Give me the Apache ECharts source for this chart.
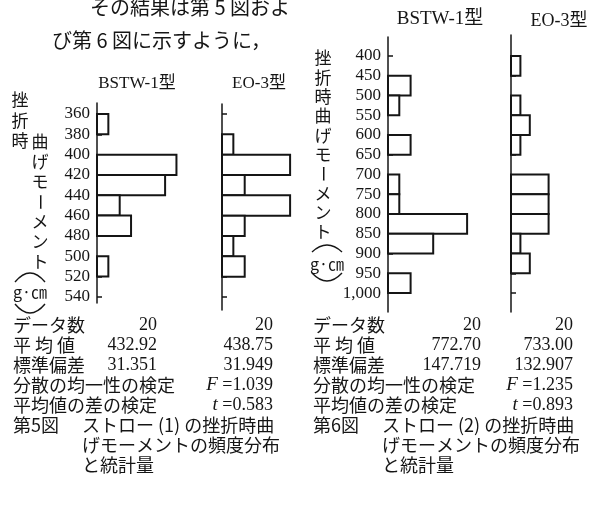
<!DOCTYPE html>
<html lang="ja">
<head>
<meta charset="UTF-8">
<title>第5図・第6図</title>
<style>
html, body { margin: 0; padding: 0; background: #fff; }
#main { width: 605px; height: 522px; }
</style>
</head>
<body>
<div id="main"></div>
<script src="https://cdn.jsdelivr.net/npm/echarts@6/dist/echarts.min.js"></script>
<script>
// 第5図: bin edges and counts
var fig5Edges = [360, 380, 400, 420, 440, 460, 480, 500, 520, 540];
var fig5Bstw = [1, 0, 7, 6, 2, 3, 0, 1, 0];
var fig5Eo = [0, 1, 6, 2, 6, 2, 1, 2, 0];
var fig5Ticks = [360, 380, 400, 420, 440, 460, 480, 500, 520, 540];

// 第6図
var fig6Edges = [400, 450, 500, 550, 600, 650, 700, 750, 800, 850, 900, 950, 1000];
var fig6Bstw = [0, 2, 1, 0, 2, 0, 1, 1, 7, 4, 0, 2];
var fig6Eo = [1, 0, 1, 2, 1, 0, 4, 4, 4, 1, 2, 0];
var fig6Ticks = [400, 450, 500, 550, 600, 650, 700, 750, 800, 850, 900, 950, 1000];

// statistics tables
var statLabels = ['データ数', '平 均 値', '標準偏差'];
var fig5Stats = [['20', '20'], ['432.92', '438.75'], ['31.351', '31.949']];
var fig6Stats = [['20', '20'], ['772.70', '733.00'], ['147.719', '132.907']];
var fig5Tests = ['1.039', '0.583'];
var fig6Tests = ['1.235', '0.893'];

var JP = '"Noto Sans CJK JP", sans-serif';
var SERIF = '"Liberation Serif", "DejaVu Serif", "Noto Sans CJK JP", serif';
var INK = '#151515';

var toBins = function (edges, counts) {
    var out = [];
    counts.forEach(function (c, i) {
        if (c > 0) out.push([edges[i], edges[i + 1], c]);
    });
    return out;
};

var renderBin = function (params, api) {
    var p0 = api.coord([0, api.value(0)]);
    var p1 = api.coord([api.value(2), api.value(1)]);
    return {
        type: 'rect',
        shape: { x: p0[0], y: p0[1], width: p1[0] - p0[0], height: p1[1] - p0[1] },
        style: { fill: '#fff', stroke: INK, lineWidth: 2 }
    };
};

var makeY = function (grid, min, max, ticks, showLabels) {
    return {
        type: 'value', gridIndex: grid, inverse: true, min: min, max: max,
        axisLine: { show: true, lineStyle: { color: INK, width: 1.5 } },
        axisTick: { show: true, inside: true, length: 5, customValues: ticks, lineStyle: { color: INK, width: 1.5 } },
        axisLabel: {
            show: showLabels, customValues: ticks, margin: 7,
            color: INK, fontFamily: SERIF, fontSize: 17,
            formatter: function (v) { return v >= 1000 ? '1,000' : String(v); }
        },
        splitLine: { show: false }
    };
};

var makeX = function (grid) {
    return { type: 'value', gridIndex: grid, min: 0, max: 10, show: false, splitLine: { show: false } };
};

var txt = function (x, y, s, opt) {
    opt = opt || {};
    return {
        type: 'text', x: x, y: y, rotation: opt.rotation || 0,
        style: {
            text: s, fill: INK,
            font: (opt.size || 18) + 'px ' + (opt.family || JP),
            align: opt.align || 'left', verticalAlign: 'middle'
        }
    };
};

var vertical = function (x, y0, step, chars, size) {
    var out = [];
    chars.split('').forEach(function (ch, i) {
        // the long vowel mark stands upright in vertical writing
        var rot = ch === 'ー' ? -Math.PI / 2 : 0;
        out.push(txt(x, y0 + i * step, ch, { size: size, align: 'center', rotation: rot }));
    });
    return out;
};

// vertical bracket (arc) above / below the unit
var bracket = function (x0, x1, yEnd, yApex) {
    return {
        type: 'bezierCurve',
        shape: { x1: x0, y1: yEnd, x2: x1, y2: yEnd, cpx1: (x0 + x1) / 2, cpy1: 2 * yApex - yEnd },
        style: { stroke: INK, lineWidth: 1.4, fill: null }
    };
};

var unitLabel = function (x, y, upEnd, upApex, lowEnd, lowApex) {
    return [
        bracket(x - 15, x + 15, upEnd, upApex),
        txt(x, y, 'g·㎝', { size: 16, align: 'center' }),
        bracket(x - 15, x + 15, lowEnd, lowApex)
    ];
};

var testText = function (x, y, sym, val) {
    return {
        type: 'text', x: x, y: y,
        style: {
            text: '{i|' + sym + '} =' + val, fill: INK, align: 'right', verticalAlign: 'middle',
            font: '18px ' + SERIF,
            rich: { i: { fontStyle: 'italic', fontFamily: SERIF, fontSize: 19, fill: INK } }
        }
    };
};

var statsBlock = function (x0, col1, col2, stats, tests, figName, num) {
    var out = [];
    var rows = [325, 345, 365];
    statLabels.forEach(function (l, i) {
        out.push(txt(x0, rows[i], l));
        out.push(txt(col1, rows[i], stats[i][0], { align: 'right', family: SERIF }));
        out.push(txt(col2, rows[i], stats[i][1], { align: 'right', family: SERIF }));
    });
    out.push(txt(x0, 385, '分散の均一性の検定'));
    out.push(testText(col2, 385, 'F', tests[0]));
    out.push(txt(x0, 405, '平均値の差の検定'));
    out.push(testText(col2, 405, 't', tests[1]));
    out.push(txt(x0, 425, figName));
    out.push(txt(x0 + 69, 425, 'ストロー (' + num + ') の挫折時曲'));
    out.push(txt(x0 + 69, 445, 'げモーメントの頻度分布'));
    out.push(txt(x0 + 69, 465, 'と統計量'));
    return out;
};

var graphics = [];
graphics.push(txt(90, 7, 'その結果は第 5 図およ', { size: 20 }));
graphics.push(txt(52, 40, 'び第 6 図に示すように，', { size: 20 }));
graphics.push(txt(137, 84, 'BSTW-1型', { size: 17, family: SERIF, align: 'center' }));
graphics.push(txt(259, 84, 'EO-3型', { size: 17, family: SERIF, align: 'center' }));
graphics.push(txt(440, 19, 'BSTW-1型', { size: 19, family: SERIF, align: 'center' }));
graphics.push(txt(559, 21, 'EO-3型', { size: 18, family: SERIF, align: 'center' }));
// 第5図 y label
graphics = graphics.concat(vertical(20, 100, 20.5, '挫折時', 17));
graphics = graphics.concat(vertical(40, 142, 20, '曲げモーメント', 17));
graphics = graphics.concat(unitLabel(30, 292, 282, 273, 304, 313));
// 第6図 y label
graphics = graphics.concat(vertical(323, 58, 19.3, '挫折時曲げモーメント', 17));
graphics = graphics.concat(unitLabel(327, 264, 252, 245, 273, 281));
// statistics
graphics = graphics.concat(statsBlock(13, 157, 273, fig5Stats, fig5Tests, '第5図', 1));
graphics = graphics.concat(statsBlock(313, 481, 573, fig6Stats, fig6Tests, '第6図', 2));

var chart = echarts.init(document.getElementById('main'), null, { renderer: 'canvas' });
chart.setOption({
    backgroundColor: '#fff',
    animation: false,
    grid: [
        { left: 97, top: 103, width: 113.5, height: 200 },
        { left: 222, top: 104, width: 113.5, height: 206 },
        { left: 388, top: 37, width: 113, height: 275 },
        { left: 511, top: 35, width: 113, height: 277 }
    ],
    xAxis: [makeX(0), makeX(1), makeX(2), makeX(3)],
    yAxis: [
        makeY(0, 349.2, 546, fig5Ticks, true),
        makeY(1, 350.2, 552.8, fig5Ticks, false),
        makeY(2, 352, 1048, fig6Ticks, true),
        makeY(3, 346.8, 1048, fig6Ticks, false)
    ],
    series: [
        { type: 'custom', xAxisIndex: 0, yAxisIndex: 0, renderItem: renderBin, encode: { x: 2, y: [0, 1] }, data: toBins(fig5Edges, fig5Bstw) },
        { type: 'custom', xAxisIndex: 1, yAxisIndex: 1, renderItem: renderBin, encode: { x: 2, y: [0, 1] }, data: toBins(fig5Edges, fig5Eo) },
        { type: 'custom', xAxisIndex: 2, yAxisIndex: 2, renderItem: renderBin, encode: { x: 2, y: [0, 1] }, data: toBins(fig6Edges, fig6Bstw) },
        { type: 'custom', xAxisIndex: 3, yAxisIndex: 3, renderItem: renderBin, encode: { x: 2, y: [0, 1] }, data: toBins(fig6Edges, fig6Eo) }
    ],
    graphic: graphics
});
</script>
</body>
</html>
